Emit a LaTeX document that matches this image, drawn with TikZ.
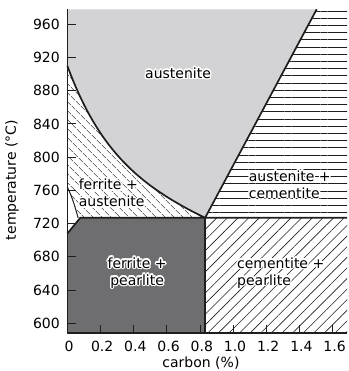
\documentclass[tikz,border=0pt]{standalone}
\usepackage{fontspec}
\setmainfont{DejaVu Sans}
\usepackage{contour}
\contourlength{1.4pt}
\contournumber{12}
\usetikzlibrary{patterns.meta}
\definecolor{austgrey}{RGB}{211,211,213}
\definecolor{pearlgrey}{RGB}{110,110,112}
\definecolor{inkline}{RGB}{30,30,30}

\begin{document}
\begin{tikzpicture}[x=166pt, y=0.8306pt, line join=round,
    phaseline/.style={draw=inkline, line width=1.7pt},
    axisline/.style={draw=inkline, line width=1.6pt},
    tickline/.style={draw=inkline, line width=0.9pt},
    lbl/.style={inner sep=0pt, font=\fontsize{14}{17}\selectfont},
    ticklbl/.style={inner sep=0pt, font=\fontsize{14}{17}\selectfont}]
  \useasboundingbox (-0.4054,542.6) rectangle (1.6909,989.2);
  \def\xmax{1.685}
  \def\tmin{588.3}
  \def\tmax{978}
  \coordinate (eut) at (0.83,727);
  \coordinate (acmtop) at (1.502,\tmax);
  \coordinate (chamfer) at (0.078,727);
  % austenite field
  \fill[austgrey] (0,\tmax) -- plot[domain=0:0.83, samples=50] (\x,{910-75.5*\x-126.2*(1-exp(-3.7*\x))}) -- (eut) -- (acmtop) -- cycle;
  % ferrite + austenite
  \fill[pattern={Lines[angle=-45,distance=6.5pt,line width=0.6pt]}, pattern color=inkline]
    (0,764) -- plot[domain=0:0.83, samples=50] (\x,{910-75.5*\x-126.2*(1-exp(-3.7*\x))})
    -- (eut) -- (0.065,727) .. controls (0.05,738) and (0.03,752) .. (0,764) -- cycle;
  % austenite + cementite
  \fill[pattern={Lines[angle=0,distance=7.2pt,line width=0.6pt]}, pattern color=inkline]
    (eut) -- (acmtop) -- (\xmax,\tmax) -- (\xmax,727) -- cycle;
  % cementite + pearlite
  \fill[pattern={Lines[angle=45,distance=7.5pt,line width=0.6pt]}, pattern color=inkline]
    (0.83,\tmin) -- (eut) -- (\xmax,727) -- (\xmax,\tmin) -- cycle;
  % ferrite + pearlite
  \fill[pearlgrey] (0,\tmin) -- (0,708) -- (chamfer) -- (eut) -- (0.83,\tmin) -- cycle;
  % phase boundaries
  \draw[phaseline] plot[domain=0:0.83, samples=50] (\x,{910-75.5*\x-126.2*(1-exp(-3.7*\x))}) -- (eut);
  \draw[phaseline] (eut) -- (acmtop);
  \draw[phaseline] (0,708) -- (chamfer) -- (\xmax,727);
  \draw[phaseline] (eut) -- (0.83,\tmin);
  \draw[draw=inkline, line width=1pt] (0,764) .. controls (0.03,752) and (0.05,738) .. (0.065,727);
  % axes and ticks
  \draw[axisline] (0,\tmax) -- (0,\tmin) -- (\xmax,\tmin);
  \foreach \t in {600,640,...,960} {
    \draw[tickline] (0,\t) -- ++(8.5pt,0pt);
    \node[ticklbl, anchor=east] (yl\t) at (-0.044,\t) {\t};
  }
  \foreach \c/\s in {0/0,0.2/0.2,0.4/0.4,0.6/0.6,0.8/0.8,1.0/1.0,1.2/1.2,1.4/1.4,1.6/1.6} {
    \draw[tickline] (\c,\tmin) -- ++(0pt,8pt);
    \node[ticklbl] (xl\s) at (\c+0.01,571.8) {\s};
  }
  \node[lbl, rotate=90] (ylabel) at (-0.333,772.5) {temperature (°C)};
  \node[lbl] (xlabel) at (0.805,552.2) {carbon (\%)};
  % field labels
  \node[lbl] (aust) at (0.667,900.3) {\contour{white}{austenite}};
  \node[lbl, anchor=west, align=left] (ferraust) at (0.068,755.7) {\contour{white}{ferrite +}\\\contour{white}{austenite}};
  \node[lbl, anchor=west, align=left] (austcem) at (1.092,766.5) {\contour{white}{austenite +}\\\contour{white}{cementite}};
  \node[lbl, align=center] (ferrpearl) at (0.4205,660) {\contour{white}{ferrite +}\\\contour{white}{pearlite}};
  \node[lbl, anchor=west, align=left] (cempearl) at (1.022,660) {\contour{white}{cementite +}\\\contour{white}{pearlite}};
\end{tikzpicture}
\end{document}
